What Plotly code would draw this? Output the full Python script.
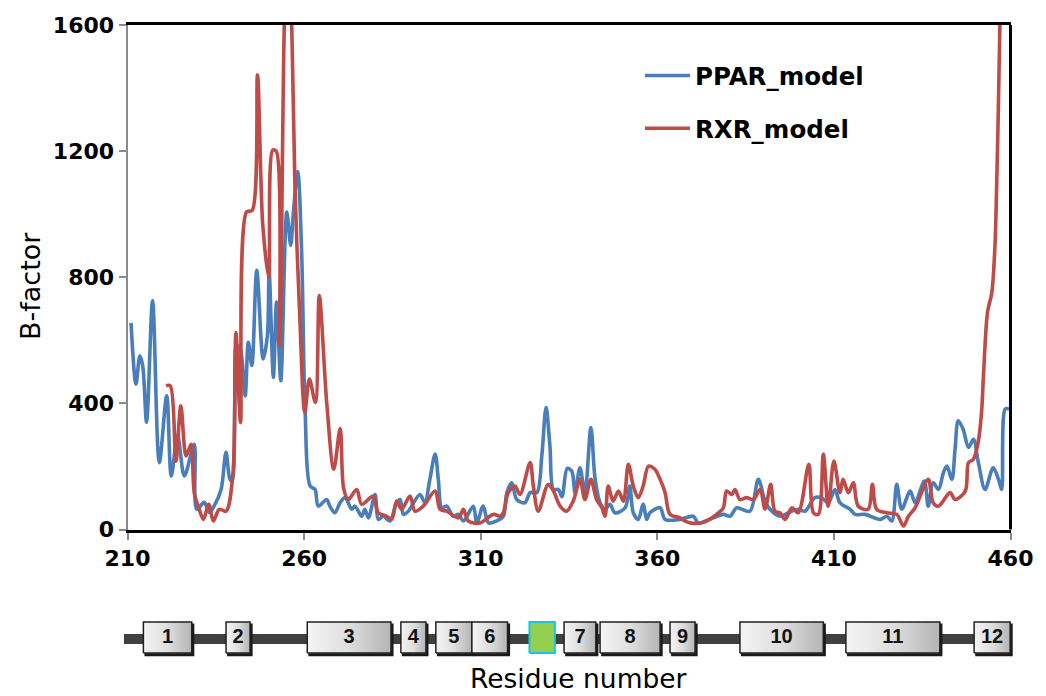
import plotly.graph_objects as go

# B-factor profiles along the residue chain (residue number, B-factor)
ppar_res = [211.0, 212.4, 213.5, 214.3, 215.4, 217.1, 219.0, 221.1, 222.4, 224.2, 226.1, 228.9,
            229.6, 231.7, 233.2, 234.5, 236.5, 237.9, 239.0, 239.6, 240.4, 240.9, 241.9, 243.3,
            244.2, 245.2, 246.6, 248.4, 249.6, 250.1, 251.3, 252.2, 253.4, 255.1, 256.2, 256.9,
            258.2, 259.3, 260.3, 261.7, 263.1, 264.0, 266.4, 267.3, 268.7, 270.2, 271.6, 273.5,
            274.4, 276.3, 277.2, 278.2, 280.1, 281.0, 282.4, 284.3, 286.2, 287.2, 288.1, 289.5,
            292.8, 294.2, 295.6, 297.1, 298.0, 299.0, 300.4, 302.2, 303.7, 305.1, 307.9, 308.9,
            310.7, 312.2, 314.5, 316.4, 317.4, 318.8, 320.2, 322.5, 324.0, 325.9, 327.3, 328.5,
            329.6, 330.6, 332.0, 333.0, 334.5, 335.8, 336.7, 338.1, 339.5, 341.2, 342.4, 343.8,
            345.2, 346.6, 348.0, 350.9, 352.2, 353.2, 354.6, 356.0, 357.0, 357.9, 360.8, 362.2,
            366.4, 370.2, 371.6, 375.9, 378.7, 380.6, 382.5, 386.2, 388.6, 390.5, 391.9, 394.7,
            396.2, 399.9, 401.8, 404.6, 406.5, 408.4, 410.3, 411.7, 414.6, 416.0, 418.8, 423.1,
            425.0, 426.4, 427.8, 429.2, 431.6, 433.0, 435.6, 436.7, 438.1, 439.6, 441.0, 442.0,
            443.4, 444.3, 445.2, 446.6, 448.1, 449.5, 450.9, 452.8, 455.1, 456.6, 457.5, 458.5,
            459.6]
ppar_b = [655, 461, 551, 520, 340, 726, 212, 424, 170, 297, 170, 270,
          64, 86, 54, 74, 127, 245, 159, 154, 424, 583, 573, 424,
          594, 520, 822, 541, 615, 820, 482, 721, 472, 1007, 901, 997,
          1135, 880, 371, 138, 127, 74, 95, 74, 53, 85, 101, 64,
          74, 42, 64, 37, 111, 32, 42, 27, 85, 95, 48, 58,
          111, 85, 159, 239, 159, 69, 74, 42, 48, 27, 74, 21,
          74, 21, 27, 42, 117, 148, 95, 85, 117, 117, 233, 387,
          265, 127, 127, 104, 194, 185, 117, 196, 117, 323, 159, 85,
          64, 80, 53, 69, 138, 53, 32, 80, 32, 53, 69, 32,
          32, 42, 21, 37, 48, 42, 69, 58, 159, 90, 64, 42,
          48, 64, 58, 101, 101, 85, 127, 85, 64, 48, 48, 32,
          42, 27, 143, 64, 122, 85, 154, 74, 148, 127, 180, 201,
          159, 254, 345, 318, 260, 286, 212, 127, 196, 159, 127, 382,
          382]

rxr_res = [220.9, 222.1, 223.7, 225.1, 226.6, 228.0, 228.9, 230.3, 231.5, 233.0, 234.3, 236.0,
           237.9, 239.8, 240.7, 242.0, 243.7, 245.3, 246.8, 248.3, 250.0, 251.1, 252.1, 253.1,
           254.4, 255.4, 256.5, 257.4, 258.8, 260.2, 261.5, 263.2, 264.3, 266.4, 268.4, 270.2,
           271.2, 272.5, 274.9, 276.3, 279.6, 281.0, 283.4, 284.8, 286.2, 287.6, 290.0, 291.4,
           293.7, 297.1, 298.5, 300.4, 303.7, 305.1, 306.5, 309.8, 313.6, 315.5, 316.4, 317.8,
           319.7, 321.1, 324.0, 324.9, 326.3, 329.1, 330.6, 332.5, 334.3, 336.2, 338.1, 339.5,
           341.2, 342.8, 344.3, 345.2, 346.1, 347.5, 349.0, 350.4, 351.8, 353.2, 354.6, 356.0,
           357.5, 359.3, 360.8, 362.2, 363.6, 366.4, 367.8, 369.3, 372.6, 376.8, 378.7, 379.6,
           381.1, 382.0, 383.4, 385.3, 387.2, 389.1, 390.5, 392.1, 393.3, 394.7, 396.2, 398.1,
           399.9, 402.9, 404.2, 405.6, 407.0, 408.4, 410.0, 411.7, 412.6, 414.1, 415.5, 416.9,
           419.7, 420.9, 422.1, 425.0, 427.8, 429.7, 431.1, 433.0, 436.7, 438.1, 439.6, 442.9,
           444.3, 447.2, 448.1, 449.5, 450.9, 451.8, 452.4, 453.5, 454.7, 455.6, 456.1, 456.6,
           457.0, 457.4]
rxr_b = [456, 456, 217, 392, 233, 270, 117, 64, 32, 80, 27, 64,
         58, 170, 625, 339, 1007, 1012, 1442, 965, 800, 1203, 1200, 583,
         1600, 1900, 1600, 1092, 668, 371, 477, 403, 742, 403, 191, 320,
         130, 95, 127, 80, 106, 53, 42, 32, 90, 64, 106, 58,
         74, 122, 64, 58, 37, 64, 27, 21, 48, 42, 53, 117,
         138, 111, 212, 138, 58, 143, 122, 74, 58, 90, 159, 95,
         159, 95, 69, 42, 138, 90, 122, 90, 207, 138, 101, 138,
         201, 191, 159, 117, 48, 37, 27, 21, 21, 48, 69, 122,
         111, 127, 95, 101, 95, 127, 64, 143, 58, 53, 32, 69,
         53, 207, 53, 48, 239, 74, 217, 117, 159, 117, 148, 74,
         64, 143, 64, 53, 48, 11, 42, 69, 159, 85, 74, 117,
         95, 122, 212, 223, 281, 371, 500, 690, 750, 900, 1100, 1357,
         1600, 1750]

# Secondary-structure map: helix spans in residue numbers
helix_labels = ["1", "2", "3", "4", "5", "6", "7", "8", "9", "10", "11", "12"]
helix_start = [214.5, 237.9, 260.9, 287.4, 297.3, 307.5, 333.6, 343.8, 363.6, 383.4, 413.4, 449.7]
helix_end = [228.2, 244.7, 284.6, 294.5, 307.5, 317.6, 342.6, 360.8, 370.7, 407.0, 440.0, 459.9]
strand_span = [323.8, 331.0]
chain_span = [209.0, 459.9]

x_ticks = [210, 260, 310, 360, 410, 460]
y_ticks = [0, 400, 800, 1200, 1600]

W, H = 1046, 696
PX_LEFT, PX_RIGHT = 127.5, 1010.5        # pixel span of the residue axis
PX_TOP, PX_BOTTOM = 25, 529.5            # pixel span of the B-factor axis
X_MIN, X_MAX = 210, 460
px_per_res = (PX_RIGHT - PX_LEFT) / (X_MAX - X_MIN)
MAP_MIN, MAP_MAX = 205, 462              # wider range for the structure map

BLUE = "#4A7EBB"
RED = "#BE4B48"
BOLD = "DejaVu Sans"
REG = "DejaVu Sans"

fig = go.Figure()

fig.add_trace(go.Scatter(
    x=ppar_res, y=ppar_b, mode="lines", name="PPAR_model",
    line=dict(color=BLUE, width=3.6, shape="spline", smoothing=0.9),
    legendgroup="a", xaxis="x", yaxis="y"))
fig.add_trace(go.Scatter(
    x=rxr_res, y=rxr_b, mode="lines", name="RXR_model",
    line=dict(color=RED, width=3.6, shape="spline", smoothing=0.9),
    legendgroup="b", xaxis="x", yaxis="y"))

# Structure map: backbone line, helix boxes, strand box, labels
fig.add_trace(go.Scatter(
    x=chain_span, y=[-0.1, -0.1], mode="lines",
    line=dict(color="#404040", width=10), showlegend=False,
    hoverinfo="skip", xaxis="x2", yaxis="y2"))

for s, e in zip(helix_start, helix_end):
    # drop shadow along bottom/right edge
    fig.add_trace(go.Scatter(
        x=[s + 0.3, e + 0.3, e + 0.3], y=[-1.12, -1.12, 0.9], mode="lines",
        line=dict(color="#1a1a1a", width=3), showlegend=False,
        hoverinfo="skip", xaxis="x2", yaxis="y2"))
    fig.add_trace(go.Scatter(
        x=[s, e, e, s, s], y=[-1, -1, 1, 1, -1], mode="lines", fill="toself",
        fillgradient=dict(type="horizontal",
                          colorscale=[[0, "#f4f4f4"], [0.5, "#dedede"], [1, "#b4b4b4"]]),
        line=dict(color="#202020", width=1.5), showlegend=False,
        hoverinfo="skip", xaxis="x2", yaxis="y2"))

fig.add_trace(go.Scatter(
    x=[strand_span[0], strand_span[1], strand_span[1], strand_span[0], strand_span[0]],
    y=[-1, -1, 1, 1, -1], mode="lines", fill="toself", fillcolor="#92D050",
    line=dict(color="#1CC6D8", width=2), showlegend=False,
    hoverinfo="skip", xaxis="x2", yaxis="y2"))

fig.add_trace(go.Scatter(
    x=[(s + e) / 2 for s, e in zip(helix_start, helix_end)],
    y=[0] * len(helix_labels), mode="text", text=helix_labels,
    textfont=dict(family="Liberation Sans", size=20, color="#111111", weight="bold"),
    showlegend=False, hoverinfo="skip", xaxis="x2", yaxis="y2"))

# Right-hand frame edge
fig.add_shape(type="line", xref="x domain", yref="y domain",
              x0=1, x1=1, y0=0, y1=1, line=dict(color="black", width=3))

map_left = PX_LEFT + (MAP_MIN - X_MIN) * px_per_res
map_right = PX_LEFT + (MAP_MAX - X_MIN) * px_per_res

fig.update_layout(
    width=W, height=H,
    margin=dict(l=0, r=0, t=0, b=0, autoexpand=False),
    paper_bgcolor="white", plot_bgcolor="white",
    showlegend=True,
    legend=dict(x=640 / W, y=1 - 53 / H, xanchor="left", yanchor="top",
                font=dict(family=BOLD, size=24.5, color="black", weight="bold"),
                bgcolor="rgba(0,0,0,0)", itemwidth=45, tracegroupgap=18),
    xaxis=dict(domain=[PX_LEFT / W, PX_RIGHT / W], range=[X_MIN, X_MAX],
               tickvals=x_ticks, ticks="outside", ticklen=7, tickwidth=2,
               tickcolor="#8a8a8a", showline=True, linecolor="black", linewidth=3,
               mirror=True, showgrid=False, zeroline=False, automargin=False,
               tickfont=dict(family=BOLD, size=22, color="black", weight="bold"),
               anchor="y"),
    yaxis=dict(domain=[1 - PX_BOTTOM / H, 1 - PX_TOP / H], range=[0, 1600],
               tickvals=y_ticks, ticks="outside", ticklen=7, tickwidth=2,
               tickcolor="#8a8a8a", showline=True, linecolor="#8a8a8a", linewidth=2,
               showgrid=False, zeroline=False, automargin=False,
               tickfont=dict(family=BOLD, size=22, color="black", weight="bold"),
               anchor="x"),
    xaxis2=dict(domain=[map_left / W, map_right / W], range=[MAP_MIN, MAP_MAX],
                visible=False, anchor="y2", automargin=False),
    yaxis2=dict(domain=[1 - 660.75 / H, 1 - 614.25 / H], range=[-1.5, 1.5],
                visible=False, anchor="x2", automargin=False),
    annotations=[
        dict(text="B-factor", x=30 / W, y=1 - 286 / H, xref="paper", yref="paper",
             xanchor="center", yanchor="middle", showarrow=False, textangle=-90,
             font=dict(family=REG, size=27, color="black")),
        dict(text="Residue number", x=578 / W, y=1 - 678 / H, xref="paper", yref="paper",
             xanchor="center", yanchor="middle", showarrow=False,
             font=dict(family=REG, size=26.5, color="black")),
    ],
)

fig.write_html("out.html")
